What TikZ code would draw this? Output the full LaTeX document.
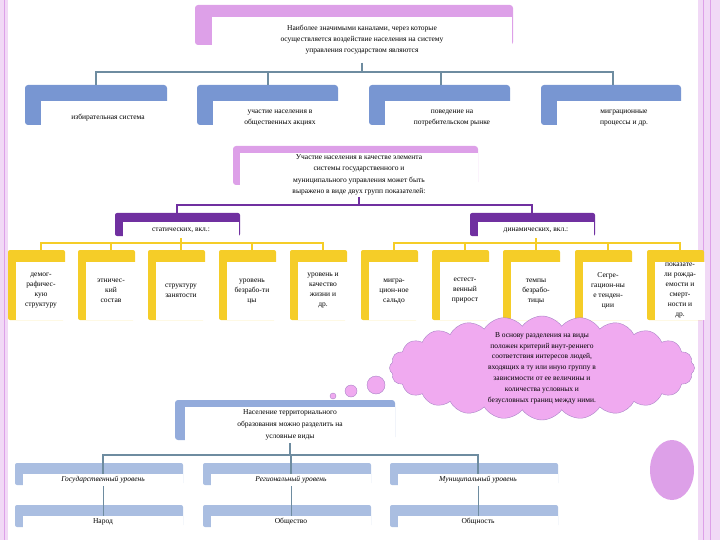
\documentclass[tikz,border=0pt]{standalone}
\usepackage{fontspec}
\setmainfont{Liberation Serif}
\usetikzlibrary{shapes.symbols}
\definecolor{pinkbar}{RGB}{221,160,232}
\definecolor{bluebar}{RGB}{120,150,210}
\definecolor{lightblue}{RGB}{170,190,225}
\definecolor{purplebar}{RGB}{112,48,160}
\definecolor{yellowbar}{RGB}{245,205,40}
\definecolor{cloudpink}{RGB}{240,170,240}
\definecolor{edgegray}{RGB}{110,140,160}
\tikzset{
  txt/.style={fill=white, inner sep=1pt, align=center, font=\fontsize{7.5}{11}\selectfont},
  conn/.style={line width=1.2pt, edgegray},
}
\begin{document}
\begin{tikzpicture}[x=1pt, y=-1pt]
    \useasboundingbox (0,0) rectangle (720,540);
    % ---------------------------------------------
    % slide borders
    \fill[pinkbar!40] (0,0) rectangle (8,540);
    \fill[pinkbar!40] (698,0) rectangle (720,540);
    \draw[pinkbar, line width=1pt] (4,0) -- (4,540);
    \draw[pinkbar, line width=1pt] (703,0) -- (703,540);
    \draw[pinkbar, line width=1pt] (710,0) -- (710,540);

    % ---------------------------------------------
    % main header and four channels
    \fill[pinkbar, rounded corners=3pt] (195,5) rectangle (513,45);
    \node[txt, minimum width=300pt, minimum height=45pt] (top) at (362,40)
      {Наиболее значимыми каналами, через которые\\осуществляется воздействие населения на систему\\управления государством являются};
    \fill[bluebar, rounded corners=3pt] (25,85) rectangle (167,125);
    \fill[bluebar, rounded corners=3pt] (197,85) rectangle (338,125);
    \fill[bluebar, rounded corners=3pt] (369,85) rectangle (510,125);
    \fill[bluebar, rounded corners=3pt] (541,85) rectangle (681,125);
    \node[txt, minimum width=134pt, minimum height=34pt] (ch1) at (108,118) {избирательная система};
    \node[txt, minimum width=134pt, minimum height=34pt] (ch2) at (280,118) {участие населения в\\общественных акциях};
    \node[txt, minimum width=134pt, minimum height=34pt] (ch3) at (452,118) {поведение на\\потребительском рынке};
    \node[txt, minimum width=134pt, minimum height=34pt] (ch4) at (624,118) {миграционные\\процессы и др.};
    \draw[conn] (top.south) -- (top.south |- 0,72) -| (96,85);
    \draw[conn] (top.south |- 0,72) -| (268,85);
    \draw[conn] (top.south |- 0,72) -| (441,85);
    \draw[conn] (top.south |- 0,72) -| (613,85);

    % ---------------------------------------------
    % two groups of indicators
    \fill[pinkbar, rounded corners=3pt] (233,146) rectangle (478,185);
    \node[txt, minimum width=238pt, minimum height=44pt, font=\fontsize{7.5}{11.5}\selectfont] (grp) at (359,175)
      {Участие населения в качестве элемента\\системы государственного и\\муниципального управления может быть\\выражено в виде двух групп показателей:};
    \fill[purplebar, rounded corners=2pt] (115,213) rectangle (240,236);
    \fill[purplebar, rounded corners=2pt] (470,213) rectangle (595,236);
    \node[txt, minimum width=116pt, minimum height=16pt] (stat) at (181,230) {статических, вкл.:};
    \node[txt, minimum width=116pt, minimum height=16pt] (dyn) at (536,230) {динамических, вкл.:};
    \draw[purplebar, line width=1.2pt] (grp.south) -- (grp.south |- 0,205) -| (177,213);
    \draw[purplebar, line width=1.2pt] (grp.south |- 0,205) -| (532,213);

    % ---------------------------------------------
    % yellow indicator boxes
    \foreach \x/\lbl [count=\i] in {
        8/{демог-\\рафичес-\\кую\\структуру},
        78/{этничес-\\кий\\состав},
        148/{структуру\\занятости},
        219/{уровень\\безрабо-ти\\цы},
        290/{уровень и\\качество\\жизни и\\др.},
        361/{мигра-\\цион-ное\\сальдо},
        432/{естест-\\венный\\прирост},
        503/{темпы\\безрабо-\\тицы},
        575/{Сегре-\\гацион-ны\\е тенден-\\ции},
        647/{показате-\\ли рожда-\\емости и\\смерт-\\ности и\\др.}} {
      \fill[yellowbar, rounded corners=2pt] (\x,250) rectangle (\x+57,320);
      \node[txt, minimum width=50pt, minimum height=58pt, font=\fontsize{7.5}{10}\selectfont] (ind\i) at (\x+33,291) {\lbl};
    }
    \draw[yellowbar, line width=1.2pt] (stat.south) -- (stat.south |- 0,243) -| (ind1.north);
    \foreach \i in {2,...,5} \draw[yellowbar, line width=1.2pt] (stat.south |- 0,243) -| (ind\i.north);
    \draw[yellowbar, line width=1.2pt] (dyn.south) -- (dyn.south |- 0,243) -| (ind6.north);
    \foreach \i in {7,...,10} \draw[yellowbar, line width=1.2pt] (dyn.south |- 0,243) -| (ind\i.north);

    % ---------------------------------------------
    % cloud with comment
    \node[cloud, cloud puffs=24, cloud puff arc=110, aspect=3, draw=purplebar!60, fill=cloudpink,
      inner sep=0pt, minimum width=305pt, minimum height=104pt] (note) at (542,368) {};
    \node[align=center, font=\fontsize{7.5}{10.8}\selectfont] (notetxt) at (note.center)
      {В основу разделения на виды\\положен критерий внут-реннего\\соответствия интересов людей,\\входящих в ту или иную группу в\\зависимости от ее величины и\\количества условных и\\безусловных границ между ними.};
    \draw[purplebar!60, fill=cloudpink] (333,396) circle[radius=3];
    \draw[purplebar!60, fill=cloudpink] (351,391) circle[radius=6];
    \draw[purplebar!60, fill=cloudpink] (376,385) circle[radius=9];

    % ---------------------------------------------
    % territorial levels
    \fill[bluebar!80, rounded corners=3pt] (175,400) rectangle (395,440);
    \node[txt, minimum width=210pt, minimum height=36pt, font=\fontsize{7.5}{12}\selectfont] (terr) at (290,425)
      {Население территориального\\образования можно разделить на\\условные виды};
    \foreach \x/\lvl/\grp [count=\i] in {15/Государственный уровень/Народ,
        203/Региональный уровень/Общество, 390/Муниципальный уровень/Общность} {
      \fill[lightblue, rounded corners=2pt] (\x,463) rectangle (\x+168,485);
      \fill[lightblue, rounded corners=2pt] (\x,505) rectangle (\x+168,527);
      \node[txt, minimum width=160pt, minimum height=12pt, font=\fontsize{7.5}{9}\selectfont\itshape] (lvl\i) at (\x+88,480) {\lvl};
      \node[txt, minimum width=160pt, minimum height=12pt] (ppl\i) at (\x+88,522) {\grp};
      \draw[conn, line width=0.8pt] (lvl\i.south) -- (ppl\i.north);
    }
    \draw[conn] (terr.south) -- (terr.south |- 0,455) -| (lvl1.north);
    \draw[conn] (terr.south |- 0,455) -| (lvl2.north);
    \draw[conn] (terr.south |- 0,455) -| (lvl3.north);

    % decorative circle
    \fill[pinkbar] (672,470) ellipse[x radius=22, y radius=30];
  \end{tikzpicture}
\end{document}
